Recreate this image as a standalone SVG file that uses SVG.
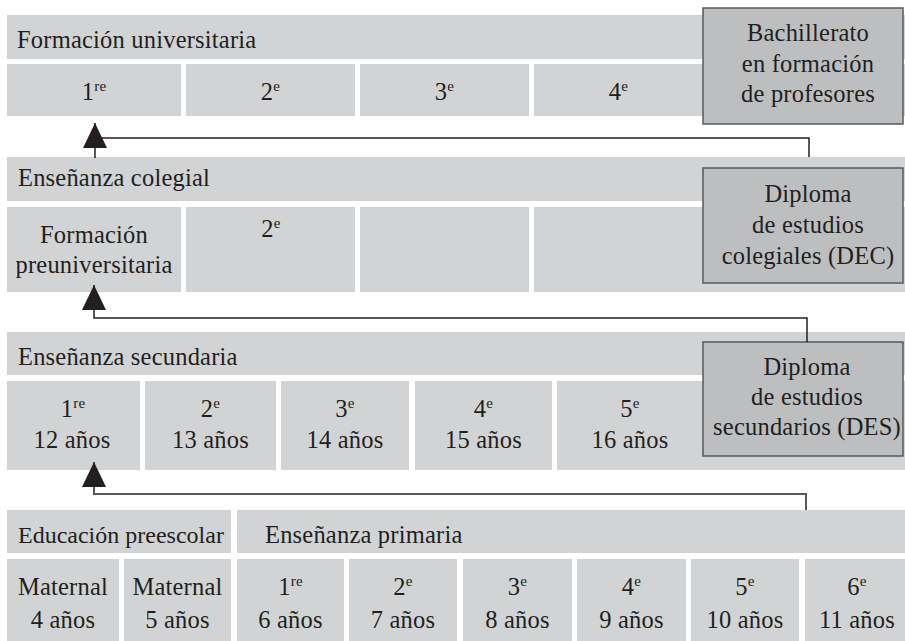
<svg xmlns="http://www.w3.org/2000/svg" width="905" height="641" viewBox="0 0 905 641">
<style>
.band{fill:#d1d3d4}
.box{fill:#bcbec0;stroke:#58595b;stroke-width:1.5}
.t{font-family:'Liberation Serif','Times New Roman',serif;font-size:24.5px;fill:#231f20;letter-spacing:0.2px}
.c{text-anchor:middle}
.sup{font-size:15px}
.ln{fill:none;stroke:#231f20;stroke-width:1.5}
.ln2{fill:none;stroke:#58595b;stroke-width:2}
</style>
<defs>
<marker id="ah" markerUnits="userSpaceOnUse" viewBox="0 0 25 24" refX="25" refY="12" markerWidth="25" markerHeight="24" orient="auto">
<path d="M0,0 L25,12 L0,24 Z" fill="#231f20"/>
</marker>
</defs>
<rect width="905" height="641" fill="#ffffff"/>

<!-- Formación universitaria -->
<g id="univ-header"><rect class="band" x="7" y="15" width="898" height="44"/><text class="t" x="17" y="48">Formación universitaria</text></g>
<g id="univ-1"><rect class="band" x="7" y="64" width="174" height="52"/><text class="t c" x="94" y="100">1<tspan class="sup" dy="-9">re</tspan></text></g>
<g id="univ-2"><rect class="band" x="186" y="64" width="169" height="52"/><text class="t c" x="270.5" y="100">2<tspan class="sup" dy="-9">e</tspan></text></g>
<g id="univ-3"><rect class="band" x="360" y="64" width="169" height="52"/><text class="t c" x="444.5" y="100">3<tspan class="sup" dy="-9">e</tspan></text></g>
<g id="univ-4"><rect class="band" x="534" y="64" width="371" height="52"/><text class="t c" x="618.5" y="100">4<tspan class="sup" dy="-9">e</tspan></text></g>
<g id="bachillerato"><rect class="box" x="703" y="8" width="200" height="116"/>
<text class="t c" x="808" y="41">Bachillerato</text>
<text class="t c" x="808" y="72">en formación</text>
<text class="t c" x="808" y="102">de profesores</text></g>

<!-- Enseñanza colegial -->
<g id="coleg-header"><rect class="band" x="7" y="157" width="898" height="44"/><text class="t" x="18" y="186">Enseñanza colegial</text></g>
<g id="coleg-1"><rect class="band" x="7" y="207" width="174" height="85"/>
<text class="t c" x="94" y="243">Formación</text>
<text class="t c" x="94" y="273">preuniversitaria</text></g>
<g id="coleg-2"><rect class="band" x="186" y="207" width="169" height="85"/><text class="t c" x="271" y="237">2<tspan class="sup" dy="-9">e</tspan></text></g>
<g id="coleg-3"><rect class="band" x="360" y="207" width="169" height="85"/></g>
<g id="coleg-4"><rect class="band" x="534" y="207" width="371" height="85"/></g>
<g id="dec"><rect class="box" x="703" y="168" width="200" height="115"/>
<text class="t c" x="808" y="202">Diploma</text>
<text class="t c" x="808" y="233">de estudios</text>
<text class="t c" x="808" y="264">colegiales (DEC)</text></g>

<!-- Enseñanza secundaria -->
<g id="sec-header"><rect class="band" x="7" y="332" width="898" height="43"/><text class="t" x="18" y="365">Enseñanza secundaria</text></g>
<g id="sec-1"><rect class="band" x="7" y="381" width="133" height="89"/><text class="t c" x="73" y="417">1<tspan class="sup" dy="-9">re</tspan></text><text class="t c" x="72" y="448">12 años</text></g>
<g id="sec-2"><rect class="band" x="145" y="381" width="131" height="89"/><text class="t c" x="210.5" y="417">2<tspan class="sup" dy="-9">e</tspan></text><text class="t c" x="210.5" y="448">13 años</text></g>
<g id="sec-3"><rect class="band" x="281" y="381" width="128" height="89"/><text class="t c" x="345" y="417">3<tspan class="sup" dy="-9">e</tspan></text><text class="t c" x="345" y="448">14 años</text></g>
<g id="sec-4"><rect class="band" x="415" y="381" width="137" height="89"/><text class="t c" x="483.5" y="417">4<tspan class="sup" dy="-9">e</tspan></text><text class="t c" x="483.5" y="448">15 años</text></g>
<g id="sec-5"><rect class="band" x="557" y="381" width="348" height="89"/><text class="t c" x="630" y="417">5<tspan class="sup" dy="-9">e</tspan></text><text class="t c" x="630" y="448">16 años</text></g>
<g id="des"><rect class="box" x="703" y="342" width="200" height="114"/>
<text class="t c" x="807" y="375">Diploma</text>
<text class="t c" x="807" y="405">de estudios</text>
<text class="t c" x="807" y="435">secundarios (DES)</text></g>

<!-- Preescolar / primaria -->
<g id="pre-header"><rect class="band" x="7" y="510" width="224" height="43"/><text class="t" x="18" y="543" style="letter-spacing:0;font-size:24px">Educación preescolar</text></g>
<g id="prim-header"><rect class="band" x="237" y="510" width="668" height="43"/><text class="t" x="265" y="543">Enseñanza primaria</text></g>
<g id="mat-4"><rect class="band" x="7" y="559" width="112" height="82"/><text class="t c" x="63" y="595">Maternal</text><text class="t c" x="63" y="628">4 años</text></g>
<g id="mat-5"><rect class="band" x="124" y="559" width="107" height="82"/><text class="t c" x="177.5" y="595">Maternal</text><text class="t c" x="177.5" y="628">5 años</text></g>
<g id="prim-1"><rect class="band" x="237" y="559" width="107" height="82"/><text class="t c" x="290.5" y="595">1<tspan class="sup" dy="-9">re</tspan></text><text class="t c" x="290.5" y="628">6 años</text></g>
<g id="prim-2"><rect class="band" x="349" y="559" width="108" height="82"/><text class="t c" x="403" y="595">2<tspan class="sup" dy="-9">e</tspan></text><text class="t c" x="403" y="628">7 años</text></g>
<g id="prim-3"><rect class="band" x="463" y="559" width="109" height="82"/><text class="t c" x="517.5" y="595">3<tspan class="sup" dy="-9">e</tspan></text><text class="t c" x="517.5" y="628">8 años</text></g>
<g id="prim-4"><rect class="band" x="577" y="559" width="109" height="82"/><text class="t c" x="631.5" y="595">4<tspan class="sup" dy="-9">e</tspan></text><text class="t c" x="631.5" y="628">9 años</text></g>
<g id="prim-5"><rect class="band" x="691" y="559" width="108" height="82"/><text class="t c" x="745" y="595">5<tspan class="sup" dy="-9">e</tspan></text><text class="t c" x="745" y="628">10 años</text></g>
<g id="prim-6"><rect class="band" x="805" y="559" width="100" height="82"/><text class="t c" x="857" y="595">6<tspan class="sup" dy="-9">e</tspan></text><text class="t c" x="857" y="628">11 años</text></g>

<!-- connectors -->
<g id="connectors">
<path class="ln" d="M95,158 V123" marker-end="url(#ah)"/>
<path class="ln" d="M95,138 H809 V157"/>
<path class="ln" d="M807,342 V318 H94 V285" marker-end="url(#ah)"/>
<path class="ln2" d="M806,510 V494 H94 V462" marker-end="url(#ah)"/>
</g>
</svg>
